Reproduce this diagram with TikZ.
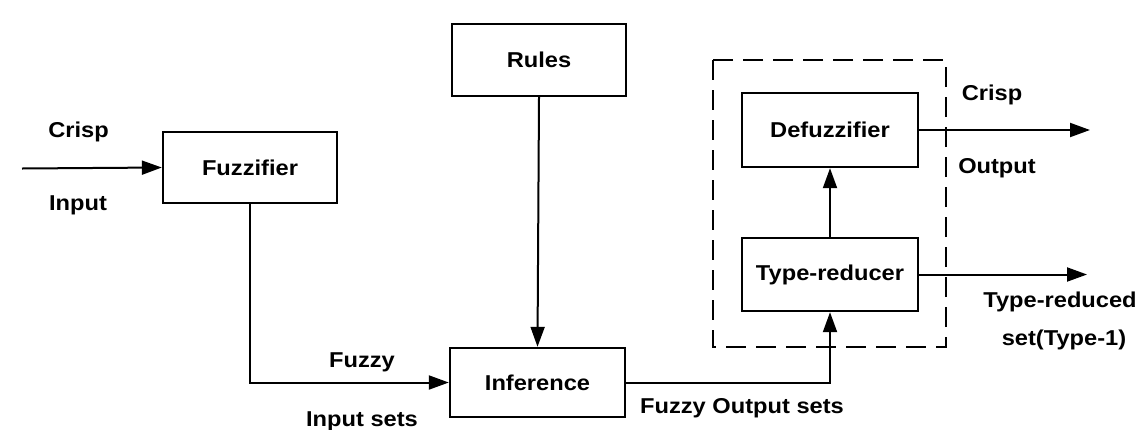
\documentclass[tikz,border=0pt]{standalone}
\usepackage{fontspec}
\setmainfont{Liberation Sans}[FakeStretch=1.1]
\usetikzlibrary{arrows.meta}
\begin{document}
\begin{tikzpicture}[x=1pt,y=-1pt,
  every node/.style={font=\fontsize{21.5}{25}\selectfont\bfseries, inner sep=0pt},
  blk/.style={draw, line width=2.4pt, minimum width=#1, align=center},
  conn/.style={line width=2pt, -{Triangle[length=20pt,width=14pt]}},
  lbl/.style={anchor=base}]
\useasboundingbox (0,0) rectangle (1142,429);
% blocks
\node[blk=174pt, minimum height=71pt] (fuzz) at (250,167.5) {Fuzzifier};
\node[blk=174pt, minimum height=72pt] (rules) at (539,60) {Rules};
\node[blk=175pt, minimum height=69pt] (inf) at (537.5,382.5) {Inference};
\node[blk=176pt, minimum height=74pt] (defuz) at (830,130) {Defuzzifier};
\node[blk=176pt, minimum height=73pt] (tred) at (830,274.5) {Type-reducer};
% dashed group
\draw[line width=2.4pt, dash pattern=on 20pt off 10pt] (713,60) rectangle (946,347);
% free ends
\coordinate (cin) at (22,168.5);
\coordinate (cout) at (1090,130);
\coordinate (tout) at (1087,274.5);
% connectors
\draw[conn] (cin) -- (fuzz.west);
\draw[conn] (fuzz.south) |- (inf.west);
\draw[conn] (rules.south) -- (inf.north);
\draw[conn] (inf.east) -| (tred.south);
\draw[conn] (tred.north) -- (defuz.south);
\draw[conn] (defuz.east) -- (cout);
\draw[conn] (tred.east) -- (tout);
% labels
\node[lbl] (lcrisp) at (78.5,137) {Crisp};
\node[lbl] (linput) at (78,210) {Input};
\node[lbl] (lfuzzy) at (362,367) {Fuzzy};
\node[lbl] (linsets) at (362,426) {Input sets};
\node[lbl] (loutsets) at (742,413) {Fuzzy Output sets};
\node[lbl] (rcrisp) at (992,100) {Crisp};
\node[lbl] (routput) at (997,173) {Output};
\node[lbl] (ltr) at (1060,307) {Type-reduced};
\node[lbl] (lset) at (1064,345) {set(Type-1)};
\end{tikzpicture}
\end{document}
